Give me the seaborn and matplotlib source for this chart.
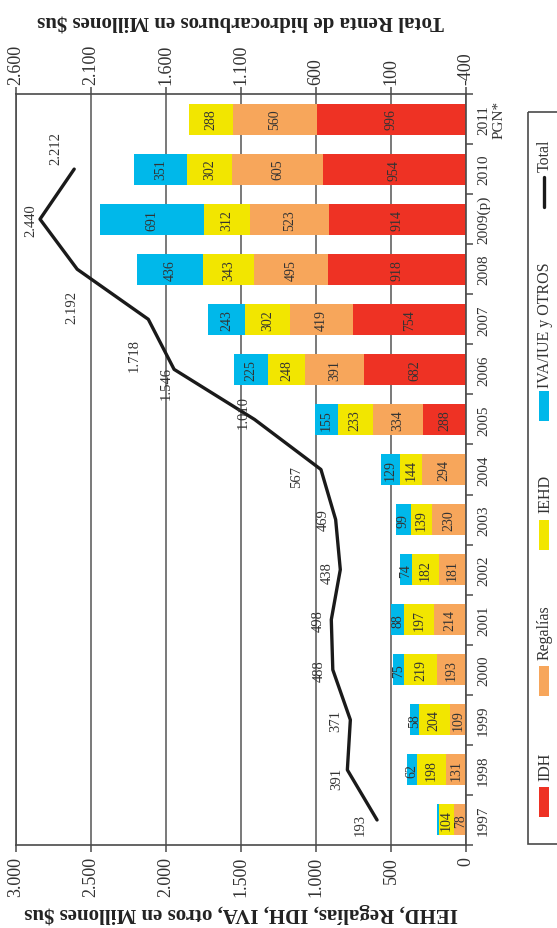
import numpy as np
import pandas as pd
import matplotlib
matplotlib.use("Agg")
import matplotlib.pyplot as plt
from matplotlib.patches import Rectangle
from matplotlib.lines import Line2D
import seaborn as sns

# ---- data (millones de $us) ----
years = ["1997", "1998", "1999", "2000", "2001", "2002", "2003", "2004",
         "2005", "2006", "2007", "2008", "2009(p)", "2010", "2011\nPGN*"]
idh = [0, 0, 0, 0, 0, 0, 0, 0, 288, 682, 754, 918, 914, 954, 996]
regalias = [78, 131, 109, 193, 214, 181, 230, 294, 334, 391, 419, 495, 523, 605, 560]
iehd = [104, 198, 204, 219, 197, 182, 139, 144, 233, 248, 302, 343, 312, 302, 288]
iva_otros = [11, 62, 58, 75, 88, 74, 99, 129, 155, 225, 243, 436, 691, 351, 0]

total_years = years[:14]
total = [193, 391, 371, 488, 498, 438, 469, 567, 1010, 1546, 1718, 2192, 2440, 2212]

series_names = ["IDH", "Regalías", "IEHD", "IVA/IUE y OTROS"]
series_colors = ["#EE3224", "#F7A65B", "#F2E600", "#00B8EA"]

left_ticks = [0, 500, 1000, 1500, 2000, 2500, 3000]
left_tick_labels = ["0", "500", "1.000", "1.500", "2.000", "2.500", "3.000"]
right_ticks = [-400, 100, 600, 1100, 1600, 2100, 2600]
right_tick_labels = ["-400", "100", "600", "1.100", "1.600", "2.100", "2.600"]

left_title = "IEHD, Regalías, IDH, IVA, otros en Millones $us"
right_title = "Total Renta de hidrocarburos en Millones $us"

# label offsets (pixels) for the total values
total_label_offsets = [(-17, -4), (-11, -8), (-15, 0), (-14, 0), (-13, 0), (-13, -2),
                       (-12, 1), (-24, -7), (-11, 8), (-8, -13), (-14, -35),
                       (-5, -37), (-9, 0), (-18, 22)]


def fmt_es(v):
    return f"{v:,}".replace(",", ".")


sns.set_theme(style="white")
plt.rcParams["font.family"] = ["Liberation Serif", "DejaVu Serif"]

INK = "#333333"
AX = "#4a4a4a"

df = pd.DataFrame({"Año": years, "IDH": idh, "Regalías": regalias,
                   "IEHD": iehd, "IVA/IUE y OTROS": iva_otros})
vals = df[series_names].to_numpy().T
cum = np.cumsum(vals, axis=0)
starts = cum - vals

order = years[::-1]

fig = plt.figure(figsize=(5.57, 9.29), dpi=100)
ax = fig.add_axes([16 / 557, 1 - 846 / 929, 450 / 557, 751 / 929])

# stacked bars: draw cumulative totals from outermost to innermost
for k in reversed(range(len(series_names))):
    sns.barplot(x=cum[k], y=df["Año"], order=order, orient="y",
                color=series_colors[k], saturation=1, width=0.62,
                linewidth=0, errorbar=None, ax=ax)

for k in range(len(series_names)):
    for j, yr in enumerate(years):
        v = vals[k][j]
        if v >= 20:
            ax.text(starts[k][j] + v / 2, order.index(yr), str(v), rotation=90,
                    ha="center", va="center", fontsize=10, color=INK)

ax.set_xlim(3000, 0)
ax.set_xticks(left_ticks, left_tick_labels)
ax.set_xlabel(left_title, rotation=180, fontweight="bold", fontsize=15,
              color="#222222", labelpad=4)
ax.set_ylabel("")
ax.grid(axis="x", color="#555555", linewidth=1.1)
ax.grid(axis="y", visible=False)
ax.set_axisbelow(True)
for s in ax.spines.values():
    s.set_visible(True)
    s.set_color(AX)
    s.set_linewidth(1.2)

ax.tick_params(axis="x", which="major", direction="out", length=5, width=1.1,
               color=AX, pad=3, labelsize=13, labelcolor="#333333",
               labelrotation=90, bottom=True, top=False)

# total line on the secondary scale
ax2 = ax.twiny()
pos = [order.index(y) for y in total_years]
sns.lineplot(x=total, y=pos, sort=False, orient="y", estimator=None,
             color="#1a1a1a", linewidth=2.4, ax=ax2)
for v, p, off in zip(total, pos, total_label_offsets):
    ax2.annotate(fmt_es(v), (v, p), xytext=off, textcoords="offset pixels",
                 rotation=90, ha="center", va="center", fontsize=10.5,
                 color=INK)
ax2.set_xlim(2600, -400)
ax2.set_xticks(right_ticks, right_tick_labels)
ax2.set_xlabel(right_title, rotation=180, fontweight="bold", fontsize=15,
               color="#222222", labelpad=14)
ax2.set_ylabel("")
for s in ax2.spines.values():
    s.set_visible(False)
ax2.tick_params(axis="x", direction="out", length=5, width=1.1, color=AX,
                pad=2, labelsize=13, labelcolor="#333333", labelrotation=90,
                top=True, bottom=False)
ax2.tick_params(axis="y", left=False, right=False, labelleft=False, labelright=False)

# category axis on the right
ax.set_ylim(len(order) - 0.5, -0.5)
ax.yaxis.tick_right()
ax.set_yticks(np.arange(-0.5, len(order), 1), minor=True)
ax.tick_params(axis="y", which="major", length=0, pad=8, labelsize=11,
               labelcolor="#333333", labelrotation=90, left=False, right=True)
ax.tick_params(axis="y", which="minor", length=5, width=1.1, color=AX,
               direction="out", left=False, right=True)
for lab in ax.get_yticklabels():
    lab.set_va("center")
    lab.set_ha("left")
    lab.set_multialignment("center")

# legend
lax = fig.add_axes([0, 0, 1, 1], zorder=5)
lax.set_xlim(0, 557)
lax.set_ylim(929, 0)
lax.axis("off")
lax.add_patch(Rectangle((528, 113), 60, 732, fill=False, edgecolor=AX,
                        linewidth=1.2, clip_on=False))
legend_rows = [("IDH", 803, 767), ("Regalías", 682, 633), ("IEHD", 536, 494),
               ("IVA/IUE y OTROS", 407, 325)]
for (name, ymark, ytext), c in zip(legend_rows, series_colors):
    lax.add_patch(Rectangle((539, ymark - 15), 10, 30, facecolor=c, edgecolor="none"))
    lax.text(545, ytext, name, rotation=90, ha="center", va="center",
             fontsize=11.5, color="#333333")
lax.add_line(Line2D([544, 544], [178, 208], color="#1a1a1a", linewidth=2.4))
lax.text(545, 156, "Total", rotation=90, ha="center", va="center",
         fontsize=11.5, color="#333333")

fig.savefig("out.png", dpi=100)
